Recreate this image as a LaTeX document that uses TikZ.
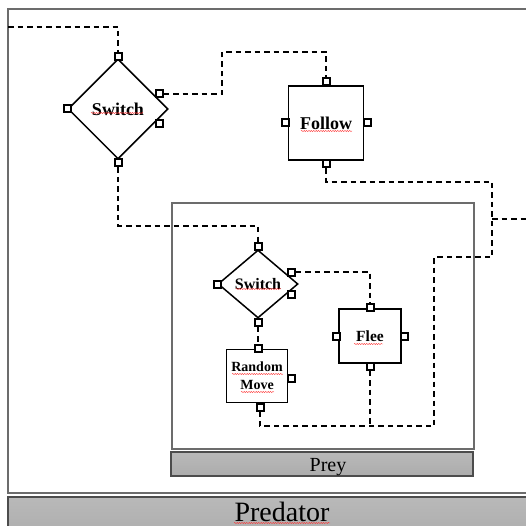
\documentclass[tikz,border=0pt]{standalone}
\usepackage{fontspec}
\setmainfont{Liberation Serif}
\usetikzlibrary{shapes.geometric, decorations.pathmorphing, calc}

\tikzset{
  frame/.style={draw=gray!85!black, line width=1.5pt},
  bar/.style={draw=gray!60!black, line width=1.2pt, top color=gray!55, bottom color=gray!65},
  switchbox/.style={diamond, draw, line width=1.5pt, inner sep=0pt, font=\bfseries\fontsize{18}{20}\selectfont},
  actbox/.style={rectangle, draw, line width=1.5pt, inner sep=0pt, align=center},
  port/.style={rectangle, draw, fill=white, line width=2pt, minimum size=7pt, inner sep=0pt},
  flow/.style={line width=1.6pt, dash pattern=on 5.5pt off 4pt},
  squig/.style={red!80, line width=0.4pt, decorate, decoration={snake, amplitude=0.6pt, segment length=2.4pt}}
}

\begin{document}
\begin{tikzpicture}[x=1pt, y=-1pt]
  \useasboundingbox (0,0) rectangle (525,526);

  % outer agent and its inner agent
  \draw[frame] (8,9) rectangle (540,493);
  \draw[bar] (8,497) rectangle (540,540);
  \node[anchor=base, font=\fontsize{28}{30}\selectfont] (predlbl) at (282,521) {Predator};

  \draw[frame] (172,203) rectangle (474,449);
  \draw[bar] (171,452) rectangle (473,476);
  \node[anchor=base, font=\fontsize{20}{22}\selectfont] (preylbl) at (328,471) {Prey};

  % behaviour nodes
  \node[switchbox, minimum width=100pt, minimum height=100pt] (sw1) at (118,109) {Switch};
  \node[actbox, minimum width=75pt, minimum height=74pt, font=\bfseries\fontsize{18}{20}\selectfont] (fol) at (326,123) {Follow};
  \node[switchbox, minimum width=80pt, minimum height=68pt, aspect=1.18, font=\bfseries\fontsize{16}{18}\selectfont] (sw2) at (258,284) {Switch};
  \node[actbox, minimum width=62pt, minimum height=54pt, font=\bfseries\fontsize{15.5}{17}\selectfont] (fle) at (370,336) {Flee};
  \node[actbox, minimum width=61pt, minimum height=53pt, font=\bfseries\fontsize{14}{18}\selectfont] (rm) at (257,376) {Random\\Move};

  % ports
  \node[port] (sw1-n) at (118,57) {};
  \node[port] (sw1-w) at (67,109) {};
  \node[port] (sw1-s) at (118,163) {};
  \node[port] (sw1-ne) at (159,94) {};
  \node[port] (sw1-se) at (159,124) {};

  \node[port] (fol-n) at (326,82) {};
  \node[port] (fol-w) at (285,123) {};
  \node[port] (fol-e) at (367,123) {};
  \node[port] (fol-s) at (326,164) {};

  \node[port] (sw2-n) at (258,246) {};
  \node[port] (sw2-w) at (217,284) {};
  \node[port] (sw2-s) at (258,322) {};
  \node[port] (sw2-ne) at (291,272) {};
  \node[port] (sw2-se) at (291,294) {};

  \node[port] (fle-n) at (370,307) {};
  \node[port] (fle-w) at (336,336) {};
  \node[port] (fle-e) at (404,336) {};
  \node[port] (fle-s) at (370,366) {};

  \node[port] (rm-n) at (258,348) {};
  \node[port] (rm-e) at (291,378) {};
  \node[port] (rm-s) at (260,407) {};

  % bends and loose ends of the links
  \coordinate (inL) at (8,27);
  \coordinate (b1) at (222,52);
  \coordinate (b2) at (492,182);
  \coordinate (b3) at (492,257);
  \coordinate (jn) at (434,426);
  \coordinate (tee) at (492,219);
  \coordinate (outR) at (530,219);

  % links
  \draw[flow] (inL) -| (sw1-n);
  \draw[flow] (sw1-ne) -| (b1) -| (fol-n);
  \draw[flow] (fol-s) |- (b2) -- (b3) -| (jn) -| (rm-s);
  \draw[flow] (tee) -- (outR);
  \draw[flow] (fle-s) -- (fle-s |- jn);
  \draw[flow] (sw1-s) -- ++(0,63) -| (sw2-n);
  \draw[flow] (sw2-ne) -| (fle-n);
  \draw[flow] (sw2-s) -- (rm-n);

  % spell-check marks under the labels
  \draw[squig] ([shift={(-27,4)}]sw1.center) -- ++(52,0);
  \draw[squig] ([shift={(-25,8)}]fol.center) -- ++(51,0);
  \draw[squig] ([shift={(-22,5)}]sw2.center) -- ++(45,0);
  \draw[squig] ([shift={(-16,8)}]fle.center) -- ++(29,0);
  \draw[squig] ([shift={(-25,-2)}]rm.center) -- ++(51,0);
  \draw[squig] ([shift={(-16,16)}]rm.center) -- ++(33,0);
  \draw[squig] (234,523) -- (330,523);
\end{tikzpicture}
\end{document}
